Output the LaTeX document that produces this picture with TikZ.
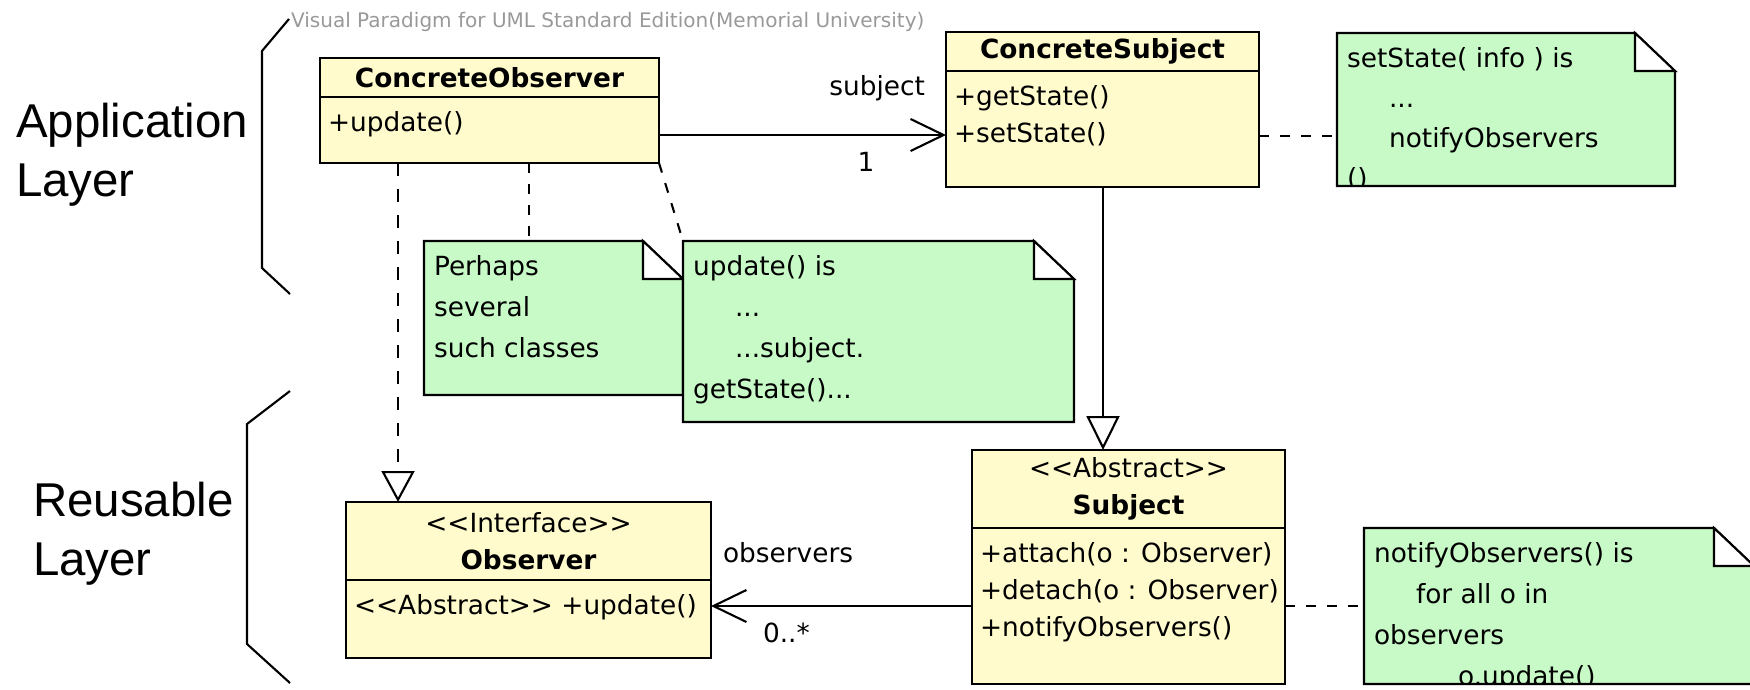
\documentclass[tikz,border=0pt]{standalone}
\usepackage{fontspec}
\setsansfont{DejaVu Sans}
\newfontfamily\layerfont{Liberation Sans}
\usetikzlibrary{arrows.meta}

\begin{document}
\begin{tikzpicture}[
  font=\sffamily\fontsize{7.5}{10.6}\selectfont,
  line width=0.6pt,
  classbox/.style={draw=black,fill=classc,inner sep=0pt,outer sep=0pt},
  head/.style={classbox,anchor=north west,align=center,
    font=\sffamily\fontsize{7.5}{10.5}\selectfont},
  members/.style={anchor=north west,inner sep=0pt,align=left},
  notebox/.style={anchor=north west,inner sep=0pt,outer sep=0pt},
  notetext/.style={anchor=north west,inner sep=0pt,align=left,
    font=\sffamily\fontsize{7.5}{11.7}\selectfont},
  layer/.style={anchor=north west,inner sep=0pt,align=left,
    font=\layerfont\fontsize{13.5}{16.7}\selectfont},
  lab/.style={inner sep=0pt},
  assoc/.style={-{Straight Barb[length=3.3mm,width=3.2mm]}},
  realize/.style={-{Triangle[open,length=3.1mm,width=3.3mm]},dash pattern=on 1.3mm off 1.3mm},
  generalize/.style={-{Triangle[open,length=3.4mm,width=3.3mm]}},
  noteline/.style={dash pattern=on 1mm off 1.1mm},
  bracket/.style={line width=0.6pt}]

  \definecolor{classc}{RGB}{255,251,204}
  \definecolor{notec}{RGB}{200,250,200}

  \useasboundingbox (0,0) rectangle (17.5,6.89);

  % watermark
  \node[lab,anchor=base west,text=black!40,font=\sffamily\fontsize{5.7}{7}\selectfont]
    (wmark) at (2.90,6.62) {Visual Paradigm for UML Standard Edition(Memorial University)};

  % ================= layer labels =================
  \node[layer] (applbl) at (0.15,5.87) {Application\\Layer};
  \node[layer] (reulbl) at (0.32,2.08) {Reusable\\Layer};
  \draw[bracket] (2.89,6.70) -- (2.62,6.38) -- (2.62,4.21) -- (2.90,3.95);
  \draw[bracket] (2.90,2.98) -- (2.47,2.65) -- (2.47,0.45) -- (2.90,0.06);

  % ================= classes =================
  \node[head,minimum width=3.39cm,minimum height=0.39cm] (cobsH) at (3.20,6.31) {\bfseries ConcreteObserver};
  \node[classbox,anchor=north,minimum width=3.39cm,minimum height=0.66cm] (cobsB) at (cobsH.south) {};
  \node[members] (cobsM) at ([shift={(0.07,-0.13)}]cobsB.north west) {+update()};

  \node[head,minimum width=3.13cm,minimum height=0.39cm] (csubH) at (9.46,6.57) {\bfseries ConcreteSubject};
  \node[classbox,anchor=north,minimum width=3.13cm,minimum height=1.16cm] (csubB) at (csubH.south) {};
  \node[members] (csubM) at ([shift={(0.07,-0.13)}]csubB.north west) {+getState()\\+setState()};

  \node[head,minimum width=3.65cm,minimum height=0.78cm] (obsH) at (3.46,1.87)
    {<\kern0pt<Interface>\kern0pt>\\{\bfseries Observer}};
  \node[classbox,anchor=north,minimum width=3.65cm,minimum height=0.78cm] (obsB) at (obsH.south) {};
  \node[members] (obsM) at ([shift={(0.07,-0.13)}]obsB.north west) {<\kern0pt<Abstract>\kern0pt> +update()};

  \node[head,minimum width=3.13cm,minimum height=0.78cm] (subH) at (9.72,2.39)
    {<\kern0pt<Abstract>\kern0pt>\\{\bfseries Subject}};
  \node[classbox,anchor=north,minimum width=3.13cm,minimum height=1.56cm] (subB) at (subH.south) {};
  \node[members] (subM) at ([shift={(0.07,-0.13)}]subB.north west)
    {+attach(o : Observer)\\+detach(o : Observer)\\+notifyObservers()};

  % ================= notes =================
  \node[notebox,minimum width=3.38cm,minimum height=1.53cm] (stnote) at (13.37,6.56) {};
  \node[notebox,minimum width=2.59cm,minimum height=1.54cm] (pnote) at (4.24,4.48) {};
  \node[notebox,minimum width=3.91cm,minimum height=1.81cm] (unote) at (6.83,4.48) {};
  \node[notebox,minimum width=3.90cm,minimum height=1.56cm] (nnote) at (13.64,1.61) {};

  \foreach \n in {stnote,pnote,unote,nnote}{
    \filldraw[fill=notec] (\n.north west) -- ([xshift=-4mm]\n.north east)
      -- ([yshift=-3.8mm]\n.north east) -- (\n.south east) -- (\n.south west) -- cycle;
    \filldraw[fill=white] ([xshift=-4mm]\n.north east) |- ([yshift=-3.8mm]\n.north east) -- cycle;
  }

  \begin{scope}
    \clip (stnote.south west) rectangle (stnote.north east);
    \node[notetext,font=\sffamily\fontsize{7.5}{11.4}\selectfont] (sttext)
      at ([shift={(0.09,-0.13)}]stnote.north west)
      {setState( info ) is\\\hspace*{4.2mm}...\\\hspace*{4.2mm}notifyObservers\\()};
  \end{scope}
  \node[notetext] (ptext) at ([shift={(0.09,-0.13)}]pnote.north west)
    {Perhaps\\several\\such classes};
  \node[notetext] (utext) at ([shift={(0.09,-0.13)}]unote.north west)
    {update() is\\\hspace*{4.2mm}...\\\hspace*{4.2mm}...subject.\\getState()...};
  \begin{scope}
    \clip (nnote.south west) rectangle (nnote.north east);
    \node[notetext] (ntext) at ([shift={(0.09,-0.13)}]nnote.north west)
      {notifyObservers() is\\\hspace*{4.2mm}for all o in\\observers\\\hspace*{8.4mm}o.update()};
  \end{scope}

  % ================= connectors =================
  % associations
  \draw[assoc] ([yshift=-0.5mm]cobsB.east) -- ([yshift=-0.5mm]cobsB.east -| csubB.west)
    node[lab,pos=1,anchor=base east,xshift=-2mm,yshift=4mm] (subjlbl) {subject}
    node[lab,pos=1,anchor=base,xshift=-8mm,yshift=-3.6mm] (onelbl) {1};
  \draw[assoc] (subB.west) -- (subB.west -| obsB.east)
    node[lab,pos=1,anchor=base west,xshift=1.1mm,yshift=4.4mm] (obslbl) {observers}
    node[lab,pos=1,anchor=base west,xshift=5.1mm,yshift=-3.6mm] (multlbl) {0..*};

  % realization and generalization
  \draw[realize] ([xshift=-9.15mm]cobsB.south) -- ([xshift=-9.15mm]cobsB.south |- obsH.north);
  \draw[generalize] ([xshift=0.05mm]csubB.south) -- ([xshift=0.05mm]csubB.south |- subH.north);

  % note anchors
  \draw[noteline] ([yshift=-0.7mm]csubB.east) -- ([yshift=-0.7mm]csubB.east -| stnote.west);
  \draw[noteline] (subB.east) -- (subB.east -| nnote.west);
  \draw[noteline] ([xshift=-2.45mm]pnote.north |- cobsB.south) -- ([xshift=-2.45mm]pnote.north);
  \draw[noteline] (cobsB.south east) -- (unote.north west);
\end{tikzpicture}
\end{document}
